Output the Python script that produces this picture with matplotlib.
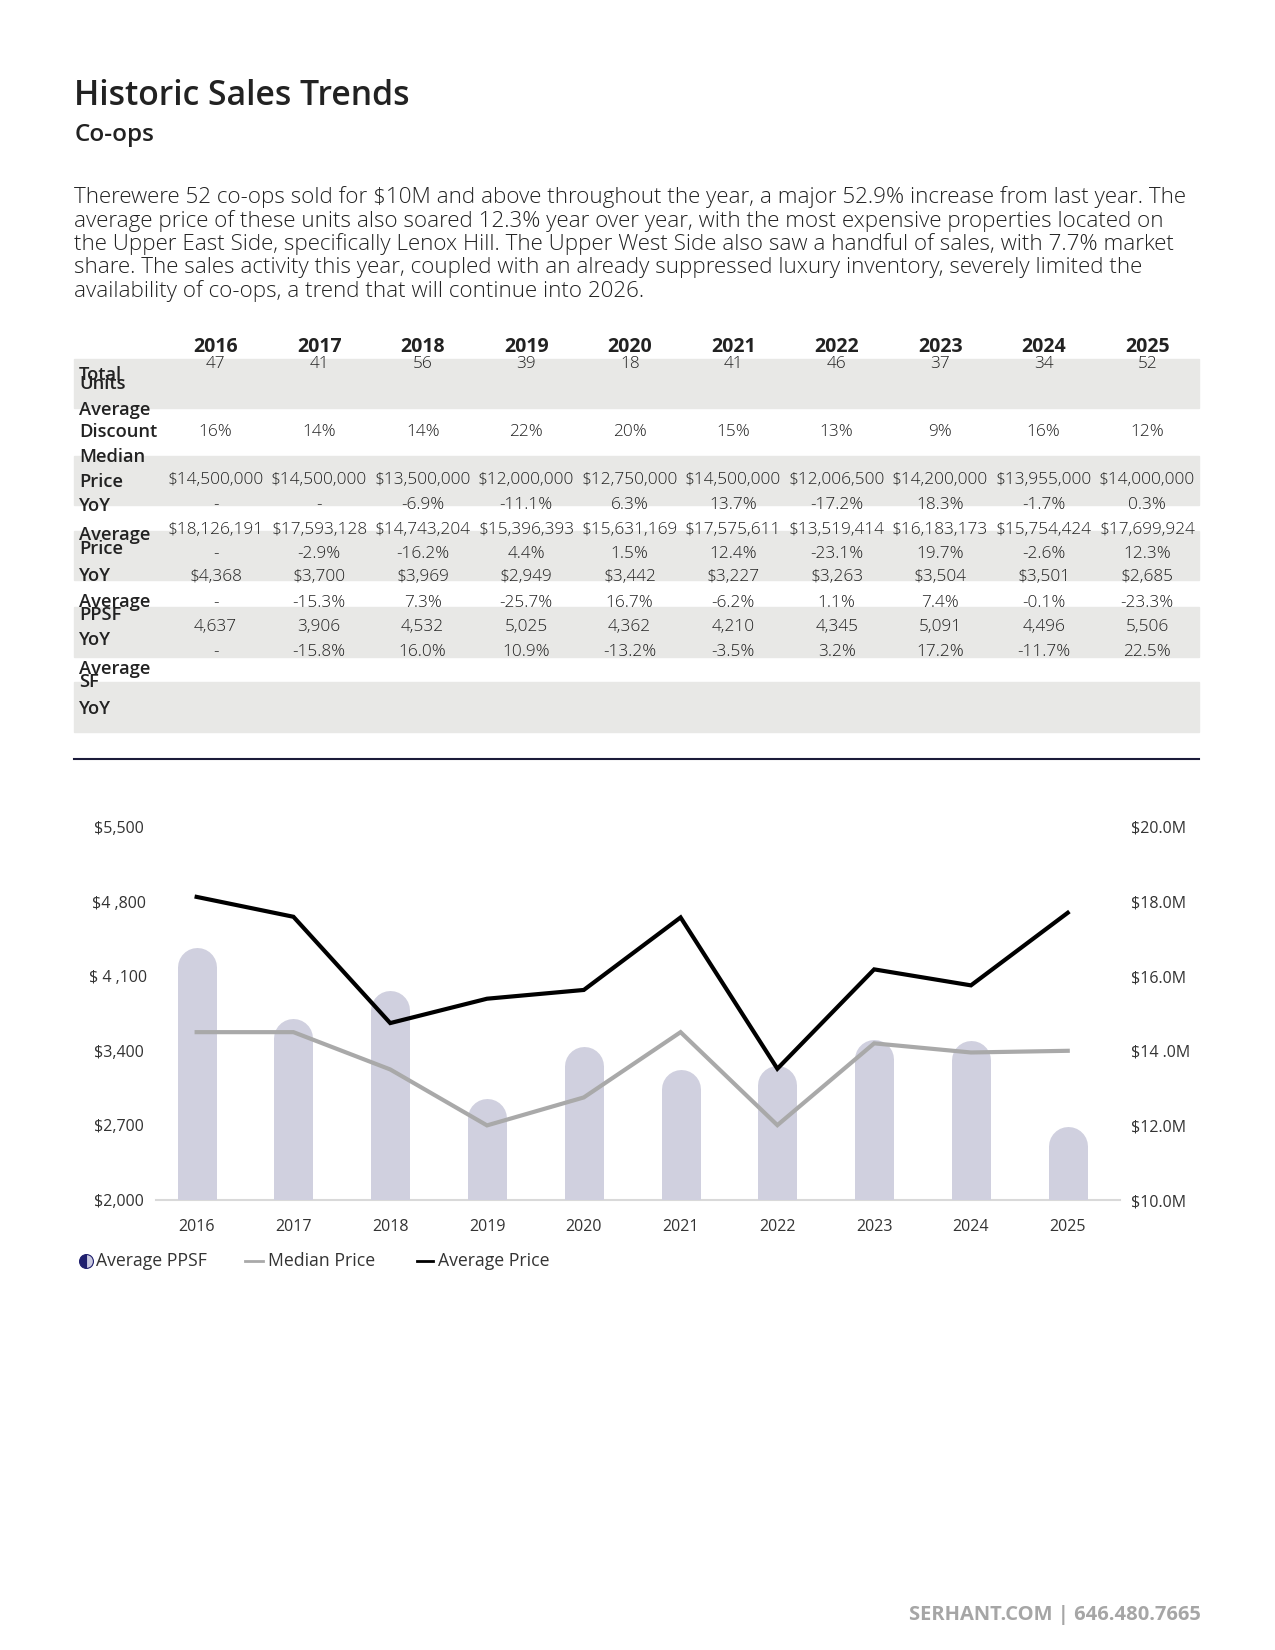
import matplotlib
matplotlib.use("Agg")
import matplotlib.pyplot as plt
from matplotlib.lines import Line2D
from matplotlib.patches import Rectangle
import numpy as np

plt.rcParams['font.family'] = ['Open Sans', 'DejaVu Sans']

# ---------------- data ----------------
years = ["2016", "2017", "2018", "2019", "2020", "2021", "2022", "2023", "2024", "2025"]
total_units = ["47", "41", "56", "39", "18", "41", "46", "37", "34", "52"]
avg_discount = ["16%", "14%", "14%", "22%", "20%", "15%", "13%", "9%", "16%", "12%"]
median_price = [14500000, 14500000, 13500000, 12000000, 12750000, 14500000, 12006500, 14200000, 13955000, 14000000]
median_yoy = ["-", "-", "-6.9%", "-11.1%", "6.3%", "13.7%", "-17.2%", "18.3%", "-1.7%", "0.3%"]
avg_price = [18126191, 17593128, 14743204, 15396393, 15631169, 17575611, 13519414, 16183173, 15754424, 17699924]
avg_price_yoy = ["-", "-2.9%", "-16.2%", "4.4%", "1.5%", "12.4%", "-23.1%", "19.7%", "-2.6%", "12.3%"]
avg_ppsf = [4368, 3700, 3969, 2949, 3442, 3227, 3263, 3504, 3501, 2685]
ppsf_yoy = ["-", "-15.3%", "7.3%", "-25.7%", "16.7%", "-6.2%", "1.1%", "7.4%", "-0.1%", "-23.3%"]
avg_sf = ["4,637", "3,906", "4,532", "5,025", "4,362", "4,210", "4,345", "5,091", "4,496", "5,506"]
sf_yoy = ["-", "-15.8%", "16.0%", "10.9%", "-13.2%", "-3.5%", "3.2%", "17.2%", "-11.7%", "22.5%"]

left_ticks = [2000, 2700, 3400, 4100, 4800, 5500]
left_tick_labels = ["$2,000", "$2,700", "$3,400", "$ 4 ,100", "$4 ,800", "$5,500"]
right_ticks = [10e6, 12e6, 14e6, 16e6, 18e6, 20e6]
right_tick_labels = ["$10.0M", "$12.0M", "$14 .0M", "$16.0M", "$18.0M", "$20.0M"]
legend_labels = ["Average PPSF", "Median Price", "Average Price"]

paragraph = [
    "Therewere 52 co-ops sold for $10M and above throughout the year, a major 52.9% increase from last year. The",
    "average price of these units also soared 12.3% year over year, with the most expensive properties located on",
    "the Upper East Side, specifically Lenox Hill. The Upper West Side also saw a handful of sales, with 7.7% market",
    "share. The sales activity this year, coupled with an already suppressed luxury inventory, severely limited the",
    "availability of co-ops, a trend that will continue into 2026.",
]

W, H = 1275, 1650
fig = plt.figure(figsize=(W / 100, H / 100), dpi=100)


def fx(px):
    return px / W


def fy(py):
    return 1 - py / H


DARK = "#222222"

# ---------------- header ----------------
fig.text(fx(74), fy(96), "Historic Sales Trends", fontsize=24.3, weight="semibold", color=DARK, va="center")
fig.text(fx(75), fy(135), "Co-ops", fontsize=17.5, weight="semibold", color=DARK, va="center")
for i, line in enumerate(paragraph):
    fig.text(fx(74), fy(197 + i * 23.6), line, fontsize=16.1, weight="light", color=DARK, va="center")

# ---------------- table ----------------
band_color = "#e8e8e6"
for top, bot in [(359, 407.7), (456, 505), (530.7, 580), (607, 656.7), (682, 731.7)]:
    fig.patches.append(Rectangle((fx(74), fy(bot)), fx(1199) - fx(74), (bot - top) / H,
                                 transform=fig.transFigure, color=band_color, zorder=0))

col_x = [215.7 + 103.5 * i for i in range(10)]
dy = 2

for x, yr in zip(col_x, years):
    fig.text(fx(x), fy(345 + dy), yr, fontsize=14, weight="bold", color=DARK, ha="center", va="center")

row_labels = [
    ("Total", 373), ("Units", 382),
    ("Average", 408), ("Discount", 430),
    ("Median", 455), ("Price", 480),
    ("YoY", 504),
    ("Average", 533), ("Price", 547),
    ("YoY", 574),
    ("Average", 600), ("PPSF", 613),
    ("YoY", 638),
    ("Average", 667), ("SF", 680),
    ("YoY", 707),
]
for lab, y in row_labels:
    fig.text(fx(79), fy(y + dy), lab, fontsize=13.2, weight="semibold", color=DARK, ha="left", va="center")


def money(v):
    return "${:,.0f}".format(v)


rows = [
    (total_units, 362),
    (avg_discount, 430),
    ([money(v) for v in median_price], 478),
    (median_yoy, 503),
    ([money(v) for v in avg_price], 528),
    (avg_price_yoy, 552),
    ([money(v) for v in avg_ppsf], 575),
    (ppsf_yoy, 601),
    (avg_sf, 625),
    (sf_yoy, 650),
]
for vals, y in rows:
    for x, v in zip(col_x, vals):
        fig.text(fx(x), fy(y + dy), v, fontsize=12.4, weight="light", color=DARK, ha="center", va="center")

# rule
fig.add_artist(Line2D([fx(74), fx(1199)], [fy(759), fy(759)], transform=fig.transFigure,
                      color="#1b1b3a", lw=1.5))

# ---------------- chart ----------------
ax_left, ax_right, ax_top, ax_bot = 156, 1120, 827, 1200
ax = fig.add_axes([fx(ax_left), fy(ax_bot), (ax_right - ax_left) / W, (ax_bot - ax_top) / H])
x = np.arange(len(years))
ax.set_xlim(-0.42, len(years) - 1 + 0.54)
ax.set_ylim(2000, 5500)

bar_px = 39
bar_color = "#d0d0df"
px_per_unit = ax.bbox.height / (5500 - 2000)
r_data = (bar_px / 2) / px_per_unit
ax.vlines(x, 2000, np.array(avg_ppsf) - r_data, colors=bar_color, lw=bar_px * 72 / 100,
          capstyle="round", zorder=2)

for s in ["top", "left", "right"]:
    ax.spines[s].set_visible(False)
ax.spines["bottom"].set_color("#d9d9d9")
ax.spines["bottom"].set_linewidth(1.5)
ax.spines["bottom"].set_zorder(1)
ax.set_yticks(left_ticks)
ax.set_yticklabels(left_tick_labels)
ax.set_xticks(x)
ax.set_xticklabels(years)
ax.tick_params(axis="both", length=0, labelsize=11.5, labelcolor="#333333")
ax.tick_params(axis="x", pad=14)
ax.tick_params(axis="y", pad=27)
for t in ax.get_yticklabels():
    t.set_ha("center")

ax2 = ax.twinx()
ax2.set_ylim(10e6, 20e6)
ax2.plot(x, median_price, color="#a9a9a9", lw=3, solid_joinstyle="miter")
ax2.plot(x, avg_price, color="#000000", lw=3, solid_joinstyle="miter")
for s in ["top", "left", "right", "bottom"]:
    ax2.spines[s].set_visible(False)
ax2.set_yticks(right_ticks)
ax2.set_yticklabels(right_tick_labels)
ax2.tick_params(axis="y", length=0, labelsize=11.5, labelcolor="#333333", pad=8)

# legend (manual)
ly = fy(1261)
fig.add_artist(Line2D([fx(86)], [ly], transform=fig.transFigure, marker="o", linestyle="none",
                      markersize=10, fillstyle="left", markerfacecolor="#1f1f6e",
                      markerfacecoloralt="#c9c9e0", markeredgecolor="#1f1f6e", markeredgewidth=0.8))
fig.text(fx(96), ly, legend_labels[0], fontsize=12.7, color="#333333", va="center")
fig.add_artist(Line2D([fx(245), fx(263)], [ly, ly], transform=fig.transFigure, color="#a9a9a9", lw=2))
fig.text(fx(268), ly, legend_labels[1], fontsize=12.7, color="#333333", va="center")
fig.add_artist(Line2D([fx(417), fx(433)], [ly, ly], transform=fig.transFigure, color="#000000", lw=2))
fig.text(fx(438), ly, legend_labels[2], fontsize=12.7, color="#333333", va="center")

# footer
fig.text(fx(1201), fy(1615), "SERHANT.COM | 646.480.7665", fontsize=14.5, weight="bold",
         color="#a6a6a6", ha="right", va="center")

fig.savefig("out.png", dpi=100)
